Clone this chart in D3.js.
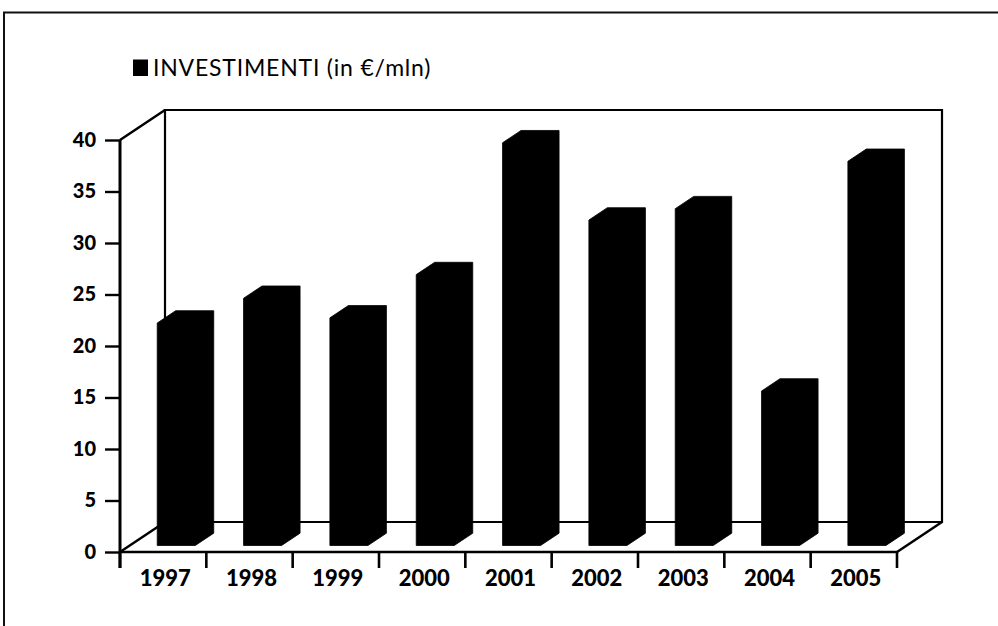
<!DOCTYPE html>
<html>
<head>
<meta charset="utf-8">
<script src="https://cdn.jsdelivr.net/npm/d3@7"></script>
<style>
  html, body { margin: 0; padding: 0; background: #fff; }
  svg { display: block; }
  text { font-family: Lato, "Open Sans", sans-serif; fill: #000; }
</style>
</head>
<body>
<svg id="chart" width="998" height="626"></svg>
<script>
// Investimenti annui (milioni di euro)
const years = ["1997", "1998", "1999", "2000", "2001", "2002", "2003", "2004", "2005"];
const investimenti = [21.6, 24.0, 22.1, 26.3, 39.1, 31.6, 32.7, 15.0, 37.3];
const yTicks = [0, 5, 10, 15, 20, 25, 30, 35, 40];
const legendLabel = "INVESTIMENTI (in \u20AC/mln)";

const svg = d3.select("#chart");

// Front plane scales
const x = d3.scaleBand().domain(years).range([120, 897]).padding(0);
const y = d3.scaleLinear().domain([0, 40]).range([552, 140]);

// Oblique depth of the 3D box (z from 0 = front to 1 = back)
const depthX = 45, depthY = 30;
const proj = (px, py, z) => [px + z * depthX, py - z * depthY];

// Bar footprint inside each category (fractions of band / depth)
const barX0 = 0.318, barX1 = 0.759;
const barZ0 = 0.217, barZ1 = 0.627;

// Outer frame
svg.append("path")
  .attr("d", "M4,626 L4,12.5 L998,12.5")
  .attr("fill", "none").attr("stroke", "#111").attr("stroke-width", 2);

const x0 = x.range()[0], x1 = x.range()[1];
const yTop = y(40), yBase = y(0);
const line = d3.line();

const walls = svg.append("g").attr("fill", "none").attr("stroke", "#000");

// Back wall
walls.append("path")
  .attr("d", line([proj(x0, yBase, 1), proj(x0, yTop, 1), proj(x1, yTop, 1), proj(x1, yBase, 1), proj(x0, yBase, 1)]))
  .attr("stroke-width", 2.2);
// Floor side edges
walls.append("path").attr("d", line([proj(x0, yBase, 0), proj(x0, yBase, 1)])).attr("stroke-width", 2.4);
walls.append("path").attr("d", line([proj(x1, yBase, 0), proj(x1, yBase, 1)])).attr("stroke-width", 2.4);
// Top-left edge of the side wall
walls.append("path").attr("d", line([proj(x0, yTop, 0), proj(x0, yTop, 1)])).attr("stroke-width", 2.4);

// Bars (black prisms)
svg.append("g").selectAll("path.bar")
  .data(years.map((yr, i) => ({ yr, v: investimenti[i] })))
  .join("path")
  .attr("class", "bar")
  .attr("fill", "#000")
  .attr("stroke", "#000")
  .attr("stroke-width", 0.8)
  .attr("stroke-linejoin", "round")
  .attr("d", d => {
    const bl = x(d.yr) + barX0 * x.bandwidth();
    const br = x(d.yr) + barX1 * x.bandwidth();
    const top = y(d.v);
    return line([
      proj(bl, yBase, barZ0),
      proj(bl, top, barZ0),
      proj(bl, top, barZ1),
      proj(br, top, barZ1),
      proj(br, yBase, barZ1),
      proj(br, yBase, barZ0)
    ]) + "Z";
  });

// Front floor edge and x ticks
walls.append("path").attr("d", line([[x0, yBase], [x1, yBase]])).attr("stroke-width", 2.6);
const xBounds = years.map(d => x(d)).concat([x1]);
svg.append("g").selectAll("line.xt")
  .data(xBounds)
  .join("line")
  .attr("x1", d => d).attr("x2", d => d)
  .attr("y1", yBase).attr("y2", yBase + 16)
  .attr("stroke", "#000").attr("stroke-width", 2.6);

// Value axis (front-left edge)
const yAxis = d3.axisLeft(y).tickValues(yTicks).tickSize(15).tickPadding(9).tickFormat(d3.format("d"));
const gy = svg.append("g").attr("transform", `translate(${x0},0)`).call(yAxis);
gy.select(".domain").remove();
gy.selectAll(".tick line").attr("stroke", "#000").attr("stroke-width", 2.4);
gy.selectAll(".tick text")
  .attr("font-family", "Lato, sans-serif")
  .attr("font-size", 20).attr("font-weight", 900).attr("fill", "#000");
svg.append("line")
  .attr("x1", x0).attr("x2", x0).attr("y1", yTop).attr("y2", yBase + 16)
  .attr("stroke", "#000").attr("stroke-width", 3);

// Category labels
svg.append("g").selectAll("text.yr")
  .data(years)
  .join("text")
  .attr("x", d => x(d) + x.bandwidth() / 2 + 2)
  .attr("y", 586)
  .attr("text-anchor", "middle")
  .attr("font-size", 22).attr("font-weight", 900)
  .text(d => d);

// Legend
const legend = svg.append("g");
legend.append("rect").attr("x", 133).attr("y", 59.5).attr("width", 15).attr("height", 16.5).attr("fill", "#000");
legend.append("text")
  .attr("x", 153).attr("y", 76)
  .attr("font-size", 23).attr("font-weight", 400)
  .attr("letter-spacing", 0.8)
  .text(legendLabel);
</script>
</body>
</html>
